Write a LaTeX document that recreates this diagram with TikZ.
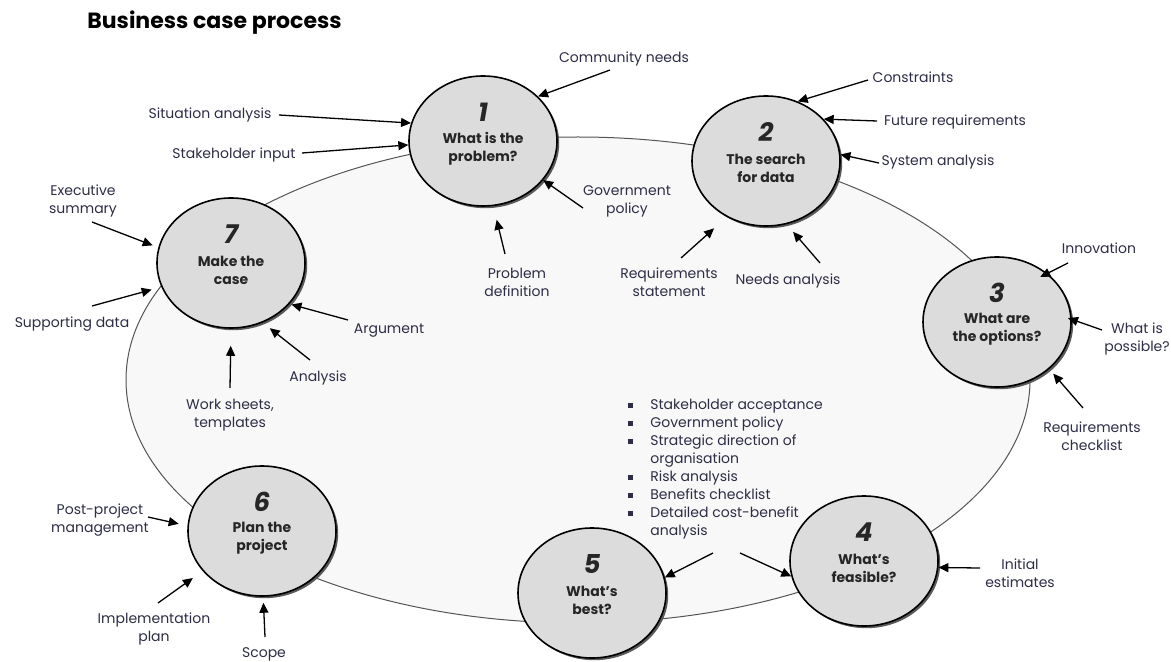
\documentclass[tikz,border=0pt]{standalone}
\usepackage{fontspec}
\setmainfont{Poppins}
\usetikzlibrary{arrows.meta,shadows,shapes.geometric}
\definecolor{lbl}{RGB}{45,45,70}
\definecolor{procfill}{RGB}{220,220,220}
\definecolor{bigfill}{RGB}{248,248,248}
\definecolor{bigline}{RGB}{85,85,85}
\newcommand\sqb{\makebox[11pt][l]{\rule[0.7pt]{2.5pt}{2.5pt}}}
\newcommand\sqi{\makebox[11pt][l]{}}
\begin{document}
\begin{tikzpicture}[x=0.5pt,y=-0.5pt,
  proc/.style={ellipse, draw=black, line width=0.8pt, fill=procfill,
    minimum width=74pt, minimum height=65pt, inner sep=0pt,
    drop shadow={shadow xshift=1.1pt, shadow yshift=-1.1pt, fill=black!65, opacity=1}},
  num/.style={font=\fontsize{13}{14}\selectfont\bfseries\itshape, text=black!85, inner sep=0pt},
  ptext/.style={font=\fontsize{7}{9}\selectfont\bfseries, align=center, text=black!85, inner sep=0pt},
  lab/.style={font=\fontsize{7}{9}\selectfont, align=center, text=lbl, inner sep=0pt, yshift=-1pt},
  arr/.style={-{Triangle[length=5pt,width=4.5pt]}, line width=0.65pt, black},
]
\useasboundingbox (0,0) rectangle (1171,662);
\fill[white] (0,0) rectangle (1171,662);

% title
\node[font=\fontsize{11}{13}\selectfont\bfseries, anchor=west, inner sep=0pt] (title) at (87,23) {Business case process};

% big oval
\path[draw=bigline, fill=bigfill, line width=0.5pt] (578,380) ellipse [x radius=452, y radius=243];

% process circles
\node[proc] (n1) at (483,141) {};
\node[proc] (n2) at (766,161) {};
\node[proc] (n3) at (997,322) {};
\node[proc] (n4) at (864,561) {};
\node[proc] (n5) at (592,593) {};
\node[proc] (n6) at (262,531) {};
\node[proc] (n7) at (231,263) {};

\foreach \n/\k/\t in {n1/1/{What is the\\problem?}, n2/2/{The search\\for data}, n3/3/{What are\\the options?}, n4/4/{What's\\feasible?}, n5/5/{What's\\best?}, n6/6/{Plan the\\project}, n7/7/{Make the\\case}}{
  \node[num, yshift=14.5pt] (k\n) at (\n) {\k};
  \node[ptext, yshift=-3.7pt] (t\n) at (\n) {\t};
}

% labels
\node[lab] (lcomm) at (624,57) {Community needs};
\node[lab] (lsit) at (210,113) {Situation analysis};
\node[lab] (lstake) at (234,153) {Stakeholder input};
\node[lab] (lgov) at (627,199) {Government\\policy};
\node[lab] (lprob) at (517,280) {Problem\\definition};
\node[lab] (lcons) at (913,75) {Constraints};
\node[lab] (lfut) at (955,120) {Future requirements};
\node[lab] (lsys) at (938,160) {System analysis};
\node[lab] (lreqs) at (669,280) {Requirements\\statement};
\node[lab] (lneeds) at (788,279) {Needs analysis};
\node[lab] (linnov) at (1099,246) {Innovation};
\node[lab] (lposs) at (1137,337) {What is\\possible?};
\node[lab] (lreqc) at (1092,434) {Requirements\\checklist};
\node[lab] (linit) at (1020,571) {Initial\\estimates};
\node[lab] (lpost) at (100,518) {Post-project\\management};
\node[lab] (limpl) at (154,627) {Implementation\\plan};
\node[lab] (lscope) at (264,652) {Scope};
\node[lab] (lexec) at (83,199) {Executive\\summary};
\node[lab] (lsupp) at (72,322) {Supporting data};
\node[lab] (larg) at (389,329) {Argument};
\node[lab] (lanal) at (318,376) {Analysis};
\node[lab] (lwork) at (230,413) {Work sheets,\\templates};

\node[lab, align=left, anchor=north west] (lcrit) at (628,397) {%
\sqb Stakeholder acceptance\\
\sqb Government policy\\
\sqb Strategic direction of\\
\sqi organisation\\
\sqb Risk analysis\\
\sqb Benefits checklist\\
\sqb Detailed cost-benefit\\
\sqi analysis};

% arrow start points
\coordinate (scomm) at (610,70);
\coordinate (ssit) at (279,115);
\coordinate (sstake) at (302,153);
\coordinate (sgov) at (583,208);
\coordinate (sprob) at (505,254);
\coordinate (scons) at (868,80);
\coordinate (sfut) at (877,121);
\coordinate (ssys) at (879,163);
\coordinate (sreqs) at (681,258);
\coordinate (sneeds) at (820,263);
\coordinate (sinnov) at (1068,263);
\coordinate (sposs) at (1102,330);
\coordinate (sreqc) at (1083,408);
\coordinate (sinit) at (980,568);
\coordinate (scritA) at (713,553);
\coordinate (scritB) at (740,553);
\coordinate (spost) at (148,517);
\coordinate (simpl) at (158,603);
\coordinate (sscope) at (265,637);
\coordinate (sexec) at (92,222);
\coordinate (ssupp) at (92,306);
\coordinate (sarg) at (348,320);
\coordinate (sanal) at (310,360);
\coordinate (swork) at (230,388);

% arrows
\draw[arr] (scomm) -- (n1.39);
\draw[arr] (ssit) -- (n1.166);
\draw[arr] (sstake) -- (n1.183);
\draw[arr] (sgov) -- (n1.-33);
\draw[arr, shorten >=7pt] (sprob) -- (n1.-81);
\draw[arr] (scons) -- (n2.62);
\draw[arr] (sfut) -- (n2.36);
\draw[arr] (ssys) -- (n2.5);
\draw[arr, shorten >=8.5pt] (sreqs) -- (n2.-125);
\draw[arr, shorten >=5pt] (sneeds) -- (n2.-72);
\draw[arr, shorten >=-4pt] (sinnov) -- (n3.44);
\draw[arr, shorten >=-2pt] (sposs) -- (n3.2);
\draw[arr, shorten >=3pt] (sreqc) -- (n3.-42);
\draw[arr] (sinit) -- (n4.-5);
\draw[arr] (scritA) -- (n5.12);
\draw[arr] (scritB) -- (n4.192);
\draw[arr, shorten >=4.5pt] (spost) -- (n6.176);
\draw[arr, shorten >=6pt] (simpl) -- (n6.214);
\draw[arr, shorten >=3pt] (sscope) -- (n6.-89);
\draw[arr, shorten >=3pt] (sexec) -- (n7.168);
\draw[arr, shorten >=5pt] (ssupp) -- (n7.199);
\draw[arr, shorten >=1pt] (sarg) -- (n7.-35);
\draw[arr, shorten >=4.5pt] (sanal) -- (n7.-62);
\draw[arr, shorten >=8.5pt] (swork) -- (n7.-90);
\end{tikzpicture}
\end{document}
